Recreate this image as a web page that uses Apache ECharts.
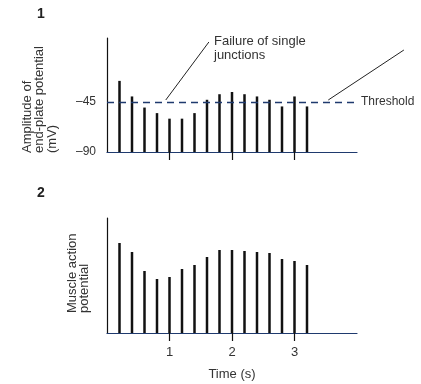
<!DOCTYPE html>
<html>
<head>
<meta charset="utf-8">
<style>
  html, body { margin: 0; padding: 0; background: #fff; }
  #chart { width: 421px; height: 384px; }
</style>
<script src="https://cdn.jsdelivr.net/npm/echarts@6/dist/echarts.min.js"></script>
</head>
<body>
<div id="chart"></div>
<script>
// stimulus times (s)
var times = [0.2, 0.4, 0.6, 0.8, 1.0, 1.2, 1.4, 1.6, 1.8, 2.0, 2.2, 2.4, 2.6, 2.8, 3.0, 3.2];
// end-plate potential amplitude (mV)
var eppValues = [-26, -40, -50, -55, -60, -60, -55, -43, -38, -36, -38, -40, -43, -49, -40, -49];
// muscle action potential (arbitrary units)
var mapValues = [90, 81, 62, 54, 56, 64, 68, 76, 83, 83, 82, 81, 80, 74, 72, 68];
var timeTicks = [1, 2, 3];
var eppTicks = [-90, -45];
var threshold = -45;
// annotation pointer lines, [from, to] in panel-1 data coords
var pointers = [
  [[0.94, -43.2], [1.63, 9]],
  [[3.54, -43.2], [4.75, 1.8]]
];

var FONT = "'Liberation Sans', Arial, sans-serif";
var NAVY = "#1f3a6e";
var INK = "#111";
var TXT = "#333";

var chart = echarts.init(document.getElementById("chart"));

function spikes(base) {
  return function (params, api) {
    var x = api.value(0);
    var p0 = api.coord([x, base]);
    var p1 = api.coord([x, api.value(1)]);
    return {
      type: "line",
      shape: { x1: p0[0], y1: p0[1], x2: p1[0], y2: p1[1] },
      style: { stroke: INK, lineWidth: 2.5 }
    };
  };
}

function pairs(xs, ys) {
  return xs.map(function (x, i) { return [x, ys[i]]; });
}

function xAxisCfg(idx, showLabels) {
  return {
    type: "value",
    gridIndex: idx,
    min: 0,
    max: 4,
    interval: 1,
    splitLine: { show: false },
    axisLine: { onZero: false, lineStyle: { color: NAVY, width: 1.2 } },
    axisTick: { show: true, customValues: timeTicks, length: 8, lineStyle: { color: INK, width: 1.2 } },
    axisLabel: {
      show: showLabels,
      customValues: timeTicks,
      margin: 13,
      color: TXT,
      fontFamily: FONT,
      fontSize: 13
    },
    name: showLabels ? "Time (s)" : "",
    nameLocation: "middle",
    nameGap: 35,
    nameTextStyle: { color: TXT, fontFamily: FONT, fontSize: 13 }
  };
}

var option = {
  animation: false,
  grid: [
    { left: 107, right: 64, top: 38, height: 114 },
    { left: 107, right: 64, top: 218, height: 115 }
  ],
  xAxis: [xAxisCfg(0, false), xAxisCfg(1, true)],
  yAxis: [
    {
      type: "value",
      gridIndex: 0,
      min: -90,
      max: 12.6,
      splitLine: { show: false },
      axisLine: { onZero: false, lineStyle: { color: INK, width: 1.2 } },
      axisTick: { show: true, customValues: [threshold], inside: true, length: 4, lineStyle: { color: INK } },
      axisLabel: {
        customValues: eppTicks,
        margin: 11,
        color: TXT,
        fontFamily: FONT,
        fontSize: 12,
        formatter: function (v) { return "\u2013" + Math.abs(v); }
      }
    },
    {
      type: "value",
      gridIndex: 1,
      min: 0,
      max: 115,
      splitLine: { show: false },
      axisLine: { onZero: false, lineStyle: { color: INK, width: 1.2 } },
      axisTick: { show: false },
      axisLabel: { show: false }
    }
  ],
  series: [
    {
      type: "custom",
      xAxisIndex: 0,
      yAxisIndex: 0,
      encode: { x: 0, y: 1 },
      renderItem: spikes(-90),
      data: pairs(times, eppValues),
      markLine: {
        silent: true,
        symbol: ["none", "none"],
        lineStyle: { color: NAVY, type: [7, 5], width: 1.3 },
        label: {
          show: true,
          position: "end",
          distance: 4,
          formatter: "Threshold",
          color: TXT,
          fontFamily: FONT,
          fontSize: 12
        },
        data: [{ yAxis: threshold }]
      }
    },
    {
      type: "custom",
      xAxisIndex: 1,
      yAxisIndex: 1,
      encode: { x: 0, y: 1 },
      renderItem: spikes(0),
      data: pairs(times, mapValues)
    }
  ],
  graphic: [
    { type: "text", left: 37, top: 7, style: { text: "1", font: "bold 14px " + FONT, fill: "#222" } },
    { type: "text", left: 37, top: 186, style: { text: "2", font: "bold 14px " + FONT, fill: "#222" } },
    {
      type: "text", x: 21, y: 153, rotation: Math.PI / 2,
      style: {
        text: "Amplitude of\nend-plate potential\n(mV)",
        font: "13px " + FONT, lineHeight: 12.5, fill: TXT,
        align: "left", verticalAlign: "top"
      }
    },
    {
      type: "text", x: 66, y: 313, rotation: Math.PI / 2,
      style: {
        text: "Muscle action\npotential",
        font: "13px " + FONT, lineHeight: 12.5, fill: TXT,
        align: "left", verticalAlign: "top"
      }
    },
    {
      type: "text", left: 214, top: 34,
      style: { text: "Failure of single\njunctions", font: "13px " + FONT, lineHeight: 14, fill: TXT }
    }
  ]
};

chart.setOption(option);

// pointer lines placed through the grid's own scale
var extra = pointers.map(function (seg) {
  var a = chart.convertToPixel({ gridIndex: 0 }, seg[0]);
  var b = chart.convertToPixel({ gridIndex: 0 }, seg[1]);
  return {
    type: "line",
    shape: { x1: a[0], y1: a[1], x2: b[0], y2: b[1] },
    style: { stroke: "#222", lineWidth: 1 }
  };
});
chart.setOption({ graphic: option.graphic.concat(extra) });
</script>
</body>
</html>
